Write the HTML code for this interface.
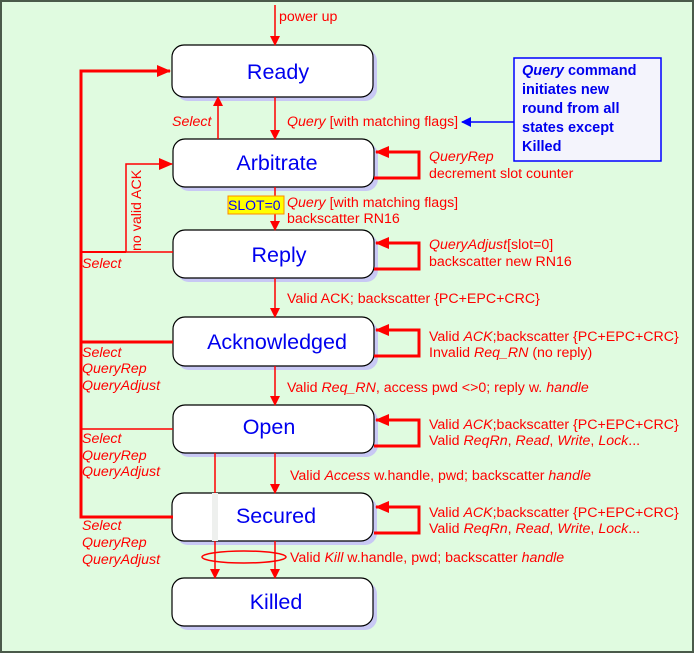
<!DOCTYPE html>
<html><head><style>
body{margin:0;background:#fff}
text{font-family:"Liberation Sans",sans-serif}
</style></head><body>
<svg width="694" height="653" viewBox="0 0 694 653" xmlns="http://www.w3.org/2000/svg">
<defs>
<marker id="a" markerWidth="10" markerHeight="10" refX="9" refY="5" orient="auto" markerUnits="userSpaceOnUse"><path d="M0,0 L10,5 L0,10 z" fill="#f00"/></marker>
<marker id="c" markerWidth="10" markerHeight="10" refX="9" refY="5" orient="auto" markerUnits="userSpaceOnUse"><path d="M0,0 L10,5 L0,10 z" fill="#00f"/></marker>
<marker id="b" markerWidth="14" markerHeight="12" refX="13" refY="6" orient="auto" markerUnits="userSpaceOnUse"><path d="M0,0 L14,6 L0,12 z" fill="#f00"/></marker>
</defs>
<rect x="0" y="0" width="694" height="653" fill="#4a5a4a"/>
<rect x="2" y="2" width="690" height="649" fill="#e0fbe0"/>
<g fill="#c8c8f4">
<rect x="176" y="49" width="201" height="52" rx="12"/>
<rect x="177" y="143" width="201" height="48" rx="12"/>
<rect x="177" y="234" width="201" height="48" rx="12"/>
<rect x="177" y="321" width="201" height="49" rx="12"/>
<rect x="177" y="409" width="201" height="48" rx="12"/>
<rect x="176" y="497" width="201" height="48" rx="12"/>
<rect x="176" y="582" width="201" height="48" rx="12"/>
</g>
<g fill="#fff" stroke="#000" stroke-width="1.2">
<rect x="172" y="45" width="201" height="52" rx="12"/>
<rect x="173" y="139" width="201" height="48" rx="12"/>
<rect x="173" y="230" width="201" height="48" rx="12"/>
<rect x="173" y="317" width="201" height="49" rx="12"/>
<rect x="173" y="405" width="201" height="48" rx="12"/>
<rect x="172" y="493" width="201" height="48" rx="12"/>
<rect x="172" y="578" width="201" height="48" rx="12"/>
</g>
<g font-size="21.5" fill="#0000ee" text-anchor="middle">
<text x="278" y="79">Ready</text>
<text x="277" y="170">Arbitrate</text>
<text x="279" y="262">Reply</text>
<text x="277" y="349">Acknowledged</text>
<text x="269" y="434">Open</text>
<text x="276" y="523">Secured</text>
<text x="276" y="609">Killed</text>
</g>
<g stroke="#f00" fill="none" stroke-width="1.5">
<line x1="275" y1="5" x2="275" y2="45" marker-end="url(#a)"/>
<line x1="275" y1="97" x2="275" y2="139" marker-end="url(#a)"/>
<line x1="218" y1="139" x2="218" y2="97" marker-end="url(#a)"/>
<line x1="275" y1="187" x2="275" y2="230" marker-end="url(#a)"/>
<line x1="275" y1="278" x2="275" y2="317" marker-end="url(#a)"/>
<line x1="275" y1="366" x2="275" y2="405" marker-end="url(#a)"/>
<line x1="275" y1="453" x2="275" y2="493" marker-end="url(#a)"/>
<line x1="275" y1="541" x2="275" y2="578" marker-end="url(#a)"/>
<line x1="215" y1="453" x2="215" y2="578" marker-end="url(#a)"/>
<ellipse cx="244" cy="557" rx="42" ry="6"/>
<polyline points="173,252 126,252 126,164 172,164" marker-end="url(#b)"/>
<line x1="81" y1="429" x2="173" y2="429"/>
<line x1="515" y1="122" x2="462" y2="122" stroke="#00f" marker-end="url(#c)"/>
</g>
<rect x="212" y="493" width="6" height="48" fill="#eef0ee"/>
<g stroke="#f00" fill="none" stroke-width="3">
<polyline points="173,517 81,517 81,71 170,71" marker-end="url(#b)"/>
<line x1="81" y1="252" x2="126" y2="252" stroke-width="2"/>
<line x1="81" y1="342" x2="173" y2="342"/>
<polyline points="374,178 419,178 419,152 376,152" marker-end="url(#b)"/>
<polyline points="374,269 419,269 419,243 376,243" marker-end="url(#b)"/>
<polyline points="374,356 419,356 419,330 376,330" marker-end="url(#b)"/>
<polyline points="374,446 419,446 419,420 376,420" marker-end="url(#b)"/>
<polyline points="374,533 419,533 419,507 376,507" marker-end="url(#b)"/>
</g>
<rect x="514" y="58" width="147" height="103" fill="#f4f4fc" stroke="#00f" stroke-width="1.5"/>
<g font-size="14.5" font-weight="bold" fill="#0000ee">
<text x="522" y="75"><tspan font-style="italic">Query</tspan> command</text>
<text x="522" y="94">initiates new</text>
<text x="522" y="113">round from all</text>
<text x="522" y="132">states except</text>
<text x="522" y="151">Killed</text>
</g>
<rect x="228" y="196" width="56" height="18" fill="#ff0" stroke="#f80"/>
<text x="228" y="210" font-size="14" fill="#00f">SLOT=0</text>
<g font-size="14.2" fill="#f00">
<text x="279" y="21">power up</text>
<text x="172" y="126" font-style="italic">Select</text>
<text x="287" y="126"><tspan font-style="italic">Query</tspan> [with matching flags]</text>
<text x="429" y="161" font-style="italic">QueryRep</text>
<text x="429" y="178">decrement slot counter</text>
<text x="287" y="207"><tspan font-style="italic">Query</tspan> [with matching flags]</text>
<text x="287" y="223">backscatter RN16</text>
<text transform="translate(141,251) rotate(-90)">no valid ACK</text>
<text x="82" y="268" font-style="italic">Select</text>
<text x="429" y="249" font-style="italic">QueryAdjust<tspan font-style="normal">[slot=0]</tspan></text>
<text x="429" y="266">backscatter new RN16</text>
<text x="287" y="303">Valid ACK; backscatter {PC+EPC+CRC}</text>
<text x="429" y="341">Valid <tspan font-style="italic">ACK</tspan>;backscatter {PC+EPC+CRC}</text>
<text x="429" y="357">Invalid <tspan font-style="italic">Req_RN</tspan> (no reply)</text>
<g font-style="italic"><text x="82" y="357">Select</text><text x="82" y="373">QueryRep</text><text x="82" y="390">QueryAdjust</text>
<text x="82" y="443">Select</text><text x="82" y="460">QueryRep</text><text x="82" y="476">QueryAdjust</text>
<text x="82" y="530">Select</text><text x="82" y="547">QueryRep</text><text x="82" y="564">QueryAdjust</text></g>
<text x="287" y="392">Valid <tspan font-style="italic">Req_RN</tspan>, access pwd &lt;&gt;0; reply w. <tspan font-style="italic">handle</tspan></text>
<text x="429" y="429">Valid <tspan font-style="italic">ACK</tspan>;backscatter {PC+EPC+CRC}</text>
<text x="429" y="445">Valid <tspan font-style="italic">ReqRn</tspan>, <tspan font-style="italic">Read</tspan>, <tspan font-style="italic">Write</tspan>, <tspan font-style="italic">Lock</tspan>...</text>
<text x="290" y="480">Valid <tspan font-style="italic">Access</tspan> w.handle, pwd; backscatter <tspan font-style="italic">handle</tspan></text>
<text x="429" y="517">Valid <tspan font-style="italic">ACK</tspan>;backscatter {PC+EPC+CRC}</text>
<text x="429" y="533">Valid <tspan font-style="italic">ReqRn</tspan>, <tspan font-style="italic">Read</tspan>, <tspan font-style="italic">Write</tspan>, <tspan font-style="italic">Lock</tspan>...</text>
<text x="290" y="562">Valid <tspan font-style="italic">Kill</tspan>  w.handle, pwd; backscatter <tspan font-style="italic">handle</tspan></text>
</g>
</svg>
</body></html>
